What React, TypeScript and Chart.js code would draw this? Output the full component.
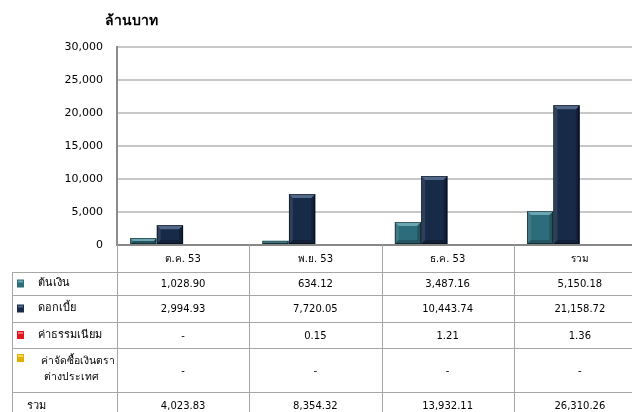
import React, { useEffect, useRef } from "react";
import { Chart, registerables } from "chart.js";

Chart.register(...registerables);

const titleText = "ล้านบาท";
const categories = ["ต.ค. 53", "พ.ย. 53", "ธ.ค. 53", "รวม"];
const seriesLabelLines = [["ต้นเงิน"], ["ดอกเบี้ย"], ["ค่าธรรมเนียม"], ["ค่าจัดซื้อเงินตรา", "ต่างประเทศ"]];
const principal = [1028.9, 634.12, 3487.16, 5150.18];
const interest = [2994.93, 7720.05, 10443.74, 21158.72];
const fee = [null, 0.15, 1.21, 1.36];
const fxPurchase = [null, null, null, null];
const totals = [4023.83, 8354.32, 13932.11, 26310.26];
const totalLabel = "รวม";
const yMin = 0;
const yMax = 30000;
const yStep = 5000;

const seriesColors = ["#2D6C7A", "#172A48", "#E3161E", "#E2B100"];
const seriesHighlights = ["#6AA6B2", "#526888", "#F36A70", "#F6D858"];

const FONT = "'DejaVu Sans', 'Noto Sans', sans-serif";

const fmt = (v: number | null) =>
  v === null || v === undefined
    ? "-"
    : v.toLocaleString("en-US", { minimumFractionDigits: 2, maximumFractionDigits: 2 });

const bevelPlugin = {
  id: "bevel",
  afterDatasetsDraw(chart: any) {
    const ctx = chart.ctx;
    chart.data.datasets.forEach((_ds: any, di: number) => {
      const meta = chart.getDatasetMeta(di);
      meta.data.forEach((el: any) => {
        const { x, y, base, width } = el.getProps(["x", "y", "base", "width"], true);
        const h = base - y;
        if (h < 2) return;
        const l = x - width / 2;
        const r = x + width / 2;
        const t = y;
        const b = base;
        const bv = Math.min(4, h / 2);
        ctx.save();
        ctx.fillStyle = seriesHighlights[di];
        ctx.beginPath();
        ctx.moveTo(l, t);
        ctx.lineTo(r, t);
        ctx.lineTo(r - bv, t + bv);
        ctx.lineTo(l + bv, t + bv);
        ctx.closePath();
        ctx.fill();
        ctx.fillStyle = "rgba(255,255,255,0.10)";
        ctx.beginPath();
        ctx.moveTo(l, t);
        ctx.lineTo(l + bv, t + bv);
        ctx.lineTo(l + bv, b - bv);
        ctx.lineTo(l, b);
        ctx.closePath();
        ctx.fill();
        ctx.fillStyle = "rgba(0,0,0,0.22)";
        ctx.beginPath();
        ctx.moveTo(r, t);
        ctx.lineTo(r - bv, t + bv);
        ctx.lineTo(r - bv, b - bv);
        ctx.lineTo(r, b);
        ctx.closePath();
        ctx.fill();
        ctx.beginPath();
        ctx.moveTo(l, b);
        ctx.lineTo(l + bv, b - bv);
        ctx.lineTo(r - bv, b - bv);
        ctx.lineTo(r, b);
        ctx.closePath();
        ctx.fill();
        ctx.strokeStyle = "rgba(0,0,0,0.45)";
        ctx.lineWidth = 1;
        ctx.strokeRect(Math.round(l) + 0.5, Math.round(t) + 0.5, Math.round(width) - 1, Math.round(h) - 1);
        ctx.restore();
      });
    });
    // redraw the baseline over the bars
    const area = chart.chartArea;
    ctx.save();
    ctx.strokeStyle = "#888888";
    ctx.lineWidth = 2;
    ctx.beginPath();
    ctx.moveTo(area.left - 1, Math.round(area.bottom));
    ctx.lineTo(chart.width, Math.round(area.bottom));
    ctx.stroke();
    ctx.restore();
  },
};

const tablePlugin = {
  id: "dataTable",
  afterDraw(chart: any) {
    const ctx = chart.ctx;
    const area = chart.chartArea;
    const n = categories.length;
    const colW = (area.right - area.left) / n;
    const rowHeights = [27, 23, 27, 26, 44, 30];
    const tops: number[] = [area.bottom];
    rowHeights.forEach((hh) => tops.push(tops[tops.length - 1] + hh));
    const tableBottom = tops[tops.length - 1];
    const legendLeft = 12;
    const right = chart.width;

    ctx.save();
    // title
    ctx.fillStyle = "#000";
    ctx.font = `bold 14px ${FONT}`;
    ctx.textAlign = "left";
    ctx.textBaseline = "middle";
    ctx.fillText(titleText, 105, 21);

    ctx.strokeStyle = "#A6A6A6";
    ctx.lineWidth = 1;
    // vertical lines
    for (let i = 0; i <= n; i++) {
      const xx = Math.round(area.left + i * colW) + 0.5;
      ctx.beginPath();
      ctx.moveTo(xx, area.bottom);
      ctx.lineTo(xx, tableBottom);
      ctx.stroke();
    }
    ctx.beginPath();
    ctx.moveTo(legendLeft + 0.5, tops[1]);
    ctx.lineTo(legendLeft + 0.5, tableBottom);
    ctx.stroke();
    // horizontal lines
    for (let r = 1; r < tops.length - 1; r++) {
      const yy = Math.round(tops[r]) + 0.5;
      ctx.beginPath();
      ctx.moveTo(legendLeft, yy);
      ctx.lineTo(right, yy);
      ctx.stroke();
    }

    // header
    ctx.fillStyle = "#000";
    ctx.font = `10px ${FONT}`;
    ctx.textAlign = "center";
    ctx.textBaseline = "middle";
    categories.forEach((c, i) => {
      ctx.fillText(c, area.left + (i + 0.5) * colW, tops[0] + rowHeights[0] / 2 + 1);
    });

    const rows = [principal, interest, fee, fxPurchase];
    rows.forEach((vals, ri) => {
      const top = tops[ri + 1];
      const hh = rowHeights[ri + 1];
      const mid = top + hh / 2;
      // swatch
      const sx = 17;
      const swY = ri === 3 ? top + 6 : mid - 4;
      ctx.fillStyle = seriesColors[ri];
      ctx.fillRect(sx, swY, 7, 8);
      ctx.fillStyle = seriesHighlights[ri];
      ctx.fillRect(sx + 1, swY + 1, 5, 2);
      // label
      ctx.fillStyle = "#000";
      ctx.textAlign = "left";
      const lines = seriesLabelLines[ri];
      if (lines.length === 1) {
        ctx.font = `11px ${FONT}`;
        ctx.fillText(lines[0], 38, mid);
      } else {
        ctx.font = `10.4px ${FONT}`;
        ctx.fillText(lines[0], 41, top + 13);
        ctx.fillText(lines[1], 44, top + 29);
      }
      ctx.font = `10px ${FONT}`;
      ctx.textAlign = "center";
      vals.forEach((v, i) => {
        ctx.fillText(fmt(v as number | null), area.left + (i + 0.5) * colW, mid + 1);
      });
    });
    // totals
    const tTop = tops[5];
    const tMid = tTop + 14;
    ctx.textAlign = "left";
    ctx.font = `11px ${FONT}`;
    ctx.fillText(totalLabel, 27, tMid);
    ctx.font = `10px ${FONT}`;
    ctx.textAlign = "center";
    totals.forEach((v, i) => {
      ctx.fillText(fmt(v), area.left + (i + 0.5) * colW, tMid);
    });
    ctx.restore();
  },
};

export default function App() {
  const ref = useRef<HTMLCanvasElement | null>(null);
  useEffect(() => {
    document.body.style.margin = "0";
    const canvas = ref.current!;
    const chart = new Chart(canvas, {
      type: "bar",
      data: {
        labels: categories,
        datasets: [
          { label: seriesLabelLines[0].join(""), data: principal, backgroundColor: seriesColors[0] },
          { label: seriesLabelLines[1].join(""), data: interest, backgroundColor: seriesColors[1] },
          { label: seriesLabelLines[2].join(""), data: fee as any, backgroundColor: seriesColors[2] },
          { label: seriesLabelLines[3].join(""), data: fxPurchase as any, backgroundColor: seriesColors[3] },
        ],
      },
      options: {
        responsive: false,
        animation: false,
        devicePixelRatio: 1,
        layout: { padding: { top: 47, bottom: 167, left: 0, right: 14 } },
        datasets: { bar: { barPercentage: 1, categoryPercentage: 0.8, borderWidth: 0 } },
        plugins: { legend: { display: false }, title: { display: false }, tooltip: { enabled: false } },
        scales: {
          x: {
            grid: { display: false, drawTicks: false },
            ticks: { display: false },
            border: { display: true, color: "#888888", width: 2 },
            afterFit: (s: any) => {
              s.height = 0;
            },
          },
          y: {
            min: yMin,
            max: yMax,
            ticks: {
              stepSize: yStep,
              padding: 14,
              color: "#000",
              font: { family: FONT, size: 11 },
              callback: (v: any) => Number(v).toLocaleString("en-US"),
            },
            grid: { color: "#C8C8C8", lineWidth: 2, drawTicks: false },
            border: { display: true, color: "#8C8C8C", width: 2 },
            afterFit: (s: any) => {
              s.width = 117;
            },
          },
        },
      },
      plugins: [bevelPlugin, tablePlugin],
    });
    return () => chart.destroy();
  }, []);
  return (
    <div style={{ position: "absolute", left: 0, top: 0, width: 632, height: 412, overflow: "hidden", background: "#fff" }}>
      <canvas ref={ref} width={660} height={412} style={{ display: "block" }} />
    </div>
  );
}
